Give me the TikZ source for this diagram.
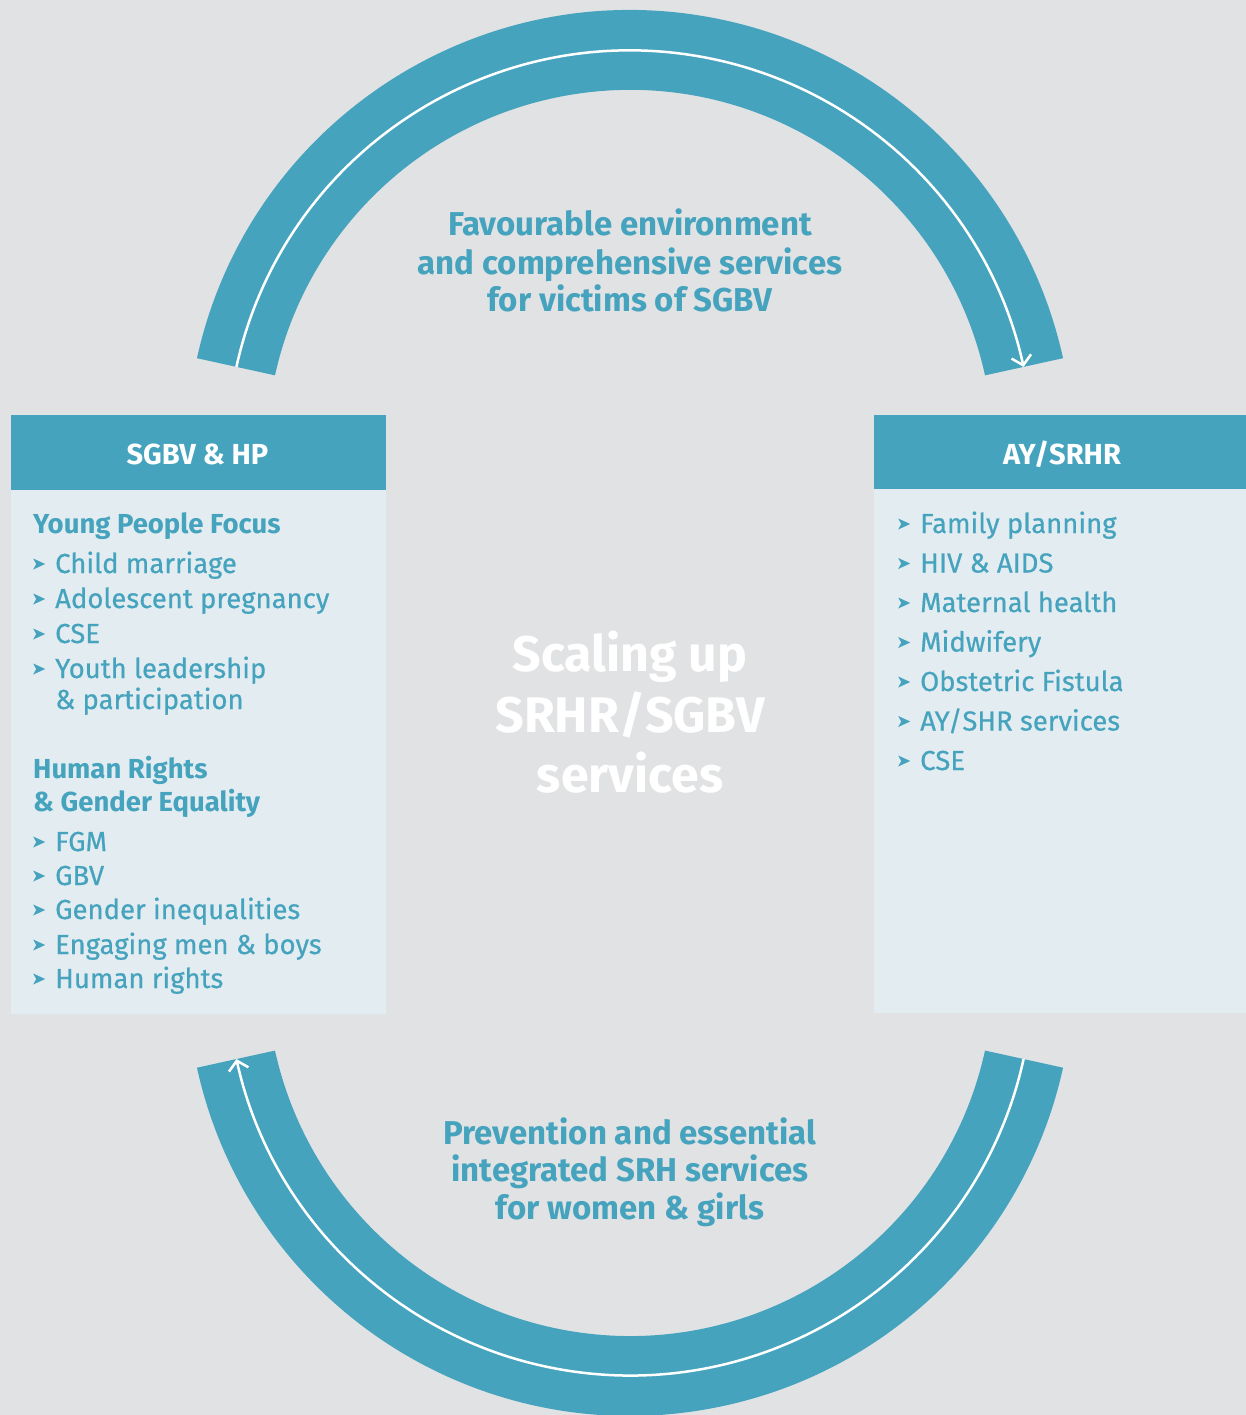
\documentclass[tikz,border=0pt]{standalone}
\usepackage{fontspec}
\setmainfont{Fira Sans}
\usetikzlibrary{arrows.meta}
\definecolor{bgcol}{HTML}{E1E2E3}
\definecolor{arcteal}{HTML}{45A3BE}
\definecolor{boxfill}{HTML}{E3ECF1}
\newcommand{\bul}{\makebox[22pt][l]{\tikz[baseline=0pt]\fill[arcteal] (0pt,14.5pt) -- (12pt,9pt) -- (0pt,3.5pt) -- (3pt,9pt) -- cycle;}}
\begin{document}
\begin{tikzpicture}[x=1pt,y=1pt,
  item/.style={anchor=base west,inner sep=0pt,text=arcteal,font=\fontsize{27.5}{27.5}\selectfont\addfontfeature{FakeBold=0.5}},
  head/.style={anchor=base west,inner sep=0pt,text=arcteal,font=\fontsize{27.5}{27.5}\selectfont\bfseries},
  hdr/.style={anchor=base,inner sep=0pt,text=white,font=\fontsize{29}{29}\selectfont\bfseries},
  arclabel/.style={anchor=base,inner sep=0pt,text=arcteal,font=\fontsize{33}{33}\selectfont\bfseries},
  title/.style={anchor=base,inner sep=0pt,text=white,font=\fontsize{50}{50}\selectfont\bfseries},
  band/.style={fill=arcteal},
  flow/.style={draw=white,line width=2.5pt,-{Straight Barb[length=9pt,width=20pt,line width=2.5pt]}}]
\useasboundingbox (0,0) rectangle (1246,-1415);
\fill[bgcol] (0,0) rectangle (1246,-1415);
% arcs
\coordinate (tc) at (630,-453.4);
\coordinate (bc) at (630,-972.5);
\fill[band] ([shift={(167.6:443.4)}]tc) arc[start angle=167.6,end angle=12.4,radius=443.4]
  -- ([shift={(12.4:363.5)}]tc) arc[start angle=12.4,end angle=167.6,radius=363.5] -- cycle;
\draw[flow] ([shift={(167.6:403)}]tc) arc[start angle=167.6,end angle=12.4,radius=403];
\fill[band] ([shift={(192.4:443.4)}]bc) arc[start angle=192.4,end angle=347.6,radius=443.4]
  -- ([shift={(347.6:363.5)}]bc) arc[start angle=347.6,end angle=192.4,radius=363.5] -- cycle;
\draw[flow] ([shift={(347.6:403)}]bc) arc[start angle=347.6,end angle=192.4,radius=403];
% boxes
\fill[arcteal] (11,-415) rectangle (386,-490);
\fill[boxfill] (11,-490) rectangle (386,-1014);
\fill[arcteal] (874,-415) rectangle (1246,-489);
\fill[boxfill] (874,-489) rectangle (1246,-1013);
\node[hdr] (lh) at (197.5,-464) {SGBV \& HP};
\node[hdr] (rh) at (1062,-464) {AY/SRHR};
% left list
\node[head] (l1) at (33,-533) {Young People Focus};
\node[item] (l2) at (33,-573) {\bul Child marriage};
\node[item] (l3) at (33,-608) {\bul Adolescent pregnancy};
\node[item] (l4) at (33,-643) {\bul CSE};
\node[item] (l5) at (33,-678) {\bul Youth leadership};
\node[item] (l6) at (55,-709) {\& participation};
\node[head] (l7) at (33,-778) {Human Rights};
\node[head] (l8) at (33,-811) {\& Gender Equality};
\node[item] (l9) at (33,-851) {\bul FGM};
\node[item] (l10) at (33,-885) {\bul GBV};
\node[item] (l11) at (33,-919) {\bul Gender inequalities};
\node[item] (l12) at (33,-954) {\bul Engaging men \& boys};
\node[item] (l13) at (33,-988) {\bul Human rights};
% right list
\node[item] (r1) at (898,-533) {\bul Family planning};
\node[item] (r2) at (898,-572.5) {\bul HIV \& AIDS};
\node[item] (r3) at (898,-612) {\bul Maternal health};
\node[item] (r4) at (898,-651.5) {\bul Midwifery};
\node[item] (r5) at (898,-691) {\bul Obstetric Fistula};
\node[item] (r6) at (898,-730.5) {\bul AY/SHR services};
\node[item] (r7) at (898,-770) {\bul CSE};
% arc labels
\node[arclabel] (t1) at (630,-236) {Favourable environment};
\node[arclabel] (t2) at (630,-274) {and comprehensive services};
\node[arclabel] (t3) at (630,-311) {for victims of SGBV};
\node[arclabel] (b1) at (630,-1144) {Prevention and essential};
\node[arclabel] (b2) at (630,-1181) {integrated SRH services};
\node[arclabel] (b3) at (630,-1219) {for women \& girls};
% title
\node[title] (c1) at (630,-671) {Scaling up};
\node[title] (c2) at (630,-732) {SRHR/SGBV};
\node[title] (c3) at (630,-792) {services};
\end{tikzpicture}
\end{document}
